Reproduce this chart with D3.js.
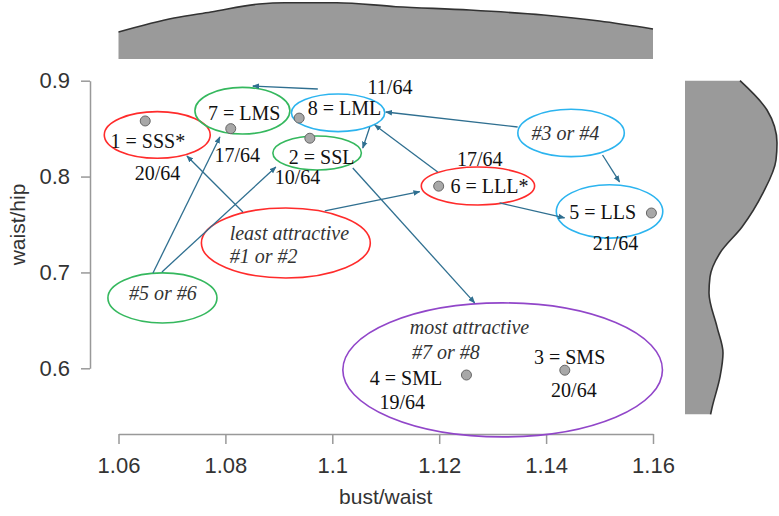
<!DOCTYPE html>
<html>
<head>
<meta charset="utf-8">
<script src="https://cdn.jsdelivr.net/npm/d3@7"></script>
<style>
  html, body { margin: 0; padding: 0; background: #fff; }
  svg { display: block; }
</style>
</head>
<body>
<svg id="chart" width="779" height="516"></svg>
<script>
// ---------------- DATA ----------------
const xTicks = [1.06, 1.08, 1.10, 1.12, 1.14, 1.16];
const xTickLabels = ["1.06", "1.08", "1.1", "1.12", "1.14", "1.16"];
const yTicks = [0.6, 0.7, 0.8, 0.9];
const yTickLabels = ["0.6", "0.7", "0.8", "0.9"];

// figures: bust/waist, waist/hip
const pointIds  = [1, 7, 8, 2, 6, 5, 4, 3];
const bustWaist = [1.065, 1.081, 1.0938, 1.0958, 1.1199, 1.1597, 1.1251, 1.1435];
const waistHip  = [0.858, 0.850, 0.861, 0.840, 0.790, 0.762, 0.593, 0.598];

// marginal density of bust/waist (arbitrary units)
const bustGrid    = [1.06, 1.0704, 1.0773, 1.0863, 1.0911, 1.1008, 1.1119, 1.1257, 1.1395, 1.15, 1.16];
const bustDensity = [6.75, 10.25, 11.75, 13.75, 14.08, 14.08, 13.08, 12.25, 11.0, 9.5, 7.5];

// marginal density of waist/hip (arbitrary units)
const hipGrid    = [0.9, 0.8694, 0.835, 0.8173, 0.7829, 0.7474, 0.7203, 0.6953, 0.6786, 0.6432, 0.616, 0.591, 0.5587, 0.552];
const hipDensity = [13.75, 20.5, 23.0, 22.75, 19.5, 14.25, 8.75, 6.25, 6.0, 8.0, 9.5, 8.75, 6.75, 6.4];

// annotation labels: text, x, y, anchor, italic
const labelText   = ["1 = SSS*", "20/64", "7 = LMS", "17/64", "8 = LML", "11/64", "2 = SSL", "10/64",
                     "17/64", "6 = LLL*", "#3 or #4", "5 = LLS", "21/64",
                     "least attractive", "#1 or #2", "#5 or #6",
                     "most attractive", "#7 or #8", "3 = SMS", "4 = SML", "19/64", "20/64"];
const labelX      = [1.0655, 1.0673, 1.0835, 1.0822, 1.1023, 1.1108, 1.0980, 1.0935,
                     1.1276, 1.1294, 1.1436, 1.1506, 1.1530,
                     1.0808, 1.0808, 1.0683,
                     1.1145, 1.1149, 1.1444, 1.1138, 1.1131, 1.1452];
const labelY      = [0.8374, 0.8041, 0.8666, 0.8225, 0.8712, 0.8934, 0.8201, 0.8000,
                     0.8180, 0.7902, 0.8452, 0.7634, 0.7308,
                     0.7412, 0.7172, 0.6786,
                     0.6432, 0.6171, 0.6119, 0.5900, 0.5650, 0.5775];
const labelAnchor = ["middle","middle","middle","middle","middle","middle","middle","middle",
                     "middle","middle","middle","middle","middle",
                     "start","start","middle",
                     "start","start","middle","middle","middle","middle"];
const labelItalic = [0,0,0,0,0,0,0,0, 0,0,1,0,0, 1,1,1, 1,1,0,0,0,0];

// ellipses (centre and radii in data units) and colour group
const ellCx    = [1.06725, 1.08318, 1.10108, 1.09716, 1.14467, 1.12725, 1.15187, 1.09131, 1.06822, 1.13187];
const ellCy    = [0.8434, 0.8687, 0.86653, 0.82461, 0.84546, 0.7902, 0.76361, 0.73076, 0.67341, 0.59833];
const ellRx    = [0.00991, 0.00888, 0.00873, 0.00828, 0.00996, 0.0106, 0.00996, 0.0158, 0.0102, 0.0299];
const ellRy    = [0.0243, 0.0243, 0.0196, 0.0177, 0.0247, 0.0198, 0.0278, 0.0365, 0.0261, 0.0699];
const ellGroup = ["red", "green", "cyan", "green", "cyan", "red", "cyan", "red", "green", "purple"];

// arrows: from (x1,y1) to (x2,y2) in data units
const arrX1 = [1.08327, 1.06645, 1.06813, 1.0986, 1.10383, 1.09729, 1.10701, 1.11972, 1.13467, 1.15056, 1.1313];
const arrY1 = [0.76309, 0.69948, 0.70052, 0.76413, 0.80897, 0.89135, 0.85172, 0.8048, 0.85172, 0.82252, 0.77247];
const arrX2 = [1.0728, 1.07897, 1.08944, 1.11636, 1.12664, 1.08514, 1.1057, 1.10794, 1.1100, 1.15374, 1.14346];
const arrY2 = [0.82148, 0.84129, 0.81001, 0.78425, 0.6682, 0.89447, 0.82982, 0.85381, 0.86736, 0.79437, 0.75683];

// ---------------- DRAW ----------------
const svg = d3.select("#chart");
const colors = { red: "#ff2b2b", green: "#35b85e", cyan: "#2cb4ef", purple: "#9146c9" };
const arrowColor = "#2f6f90";

const x = d3.scaleLinear().domain([1.06, 1.16]).range([118.5, 653]);
const y = d3.scaleLinear().domain([0.6, 0.9]).range([368.3, 80.7]);

// top marginal density
const topD = d3.scaleLinear().domain([0, 14.25]).range([59, 2]);
const topArea = d3.area().x((d, i) => x(bustGrid[i])).y0(59).y1(d => topD(d)).curve(d3.curveMonotoneX);
const topLine = d3.line().x((d, i) => x(bustGrid[i])).y(d => topD(d)).curve(d3.curveMonotoneX);
svg.append("path").attr("d", topArea(bustDensity)).attr("fill", "#9a9a9a");
svg.append("path").attr("d", topLine(bustDensity)).attr("fill", "none").attr("stroke", "#333").attr("stroke-width", 1.6);

// right marginal density
const rightD = d3.scaleLinear().domain([0, 23]).range([685, 777]);
const rArea = d3.area().y((d, i) => y(hipGrid[i])).x0(685).x1(d => rightD(d)).curve(d3.curveMonotoneY);
const rLine = d3.line().y((d, i) => y(hipGrid[i])).x(d => rightD(d)).curve(d3.curveMonotoneY);
svg.append("path").attr("d", rArea(hipDensity)).attr("fill", "#9a9a9a");
svg.append("path").attr("d", rLine(hipDensity)).attr("fill", "none").attr("stroke", "#333").attr("stroke-width", 1.6);

// axes
const xAxis = d3.axisBottom(x).tickValues(xTicks).tickFormat((d, i) => xTickLabels[i])
  .tickSizeOuter(0).tickSizeInner(10).tickPadding(13);
const gx = svg.append("g").attr("transform", "translate(0,434)").call(xAxis);
const yAxis = d3.axisLeft(y).tickValues(yTicks).tickFormat((d, i) => yTickLabels[i])
  .tickSizeOuter(0).tickSizeInner(9).tickPadding(11);
const gy = svg.append("g").attr("transform", "translate(90,0)").call(yAxis);
[gx, gy].forEach(g => {
  g.selectAll("path, line").attr("stroke", "#999").attr("stroke-width", 1.5);
  g.selectAll("text").attr("fill", "#333").style("font-family", "'Liberation Sans', Arial, sans-serif").style("font-size", "22px");
});

svg.append("text").attr("x", (x(1.06) + x(1.16)) / 2).attr("y", 504).attr("text-anchor", "middle")
  .attr("fill", "#333").style("font-family", "'Liberation Sans', Arial, sans-serif").style("font-size", "21px")
  .text("bust/waist");
svg.append("text").attr("transform", `translate(25,${(y(0.6) + y(0.9)) / 2}) rotate(-90)`).attr("text-anchor", "middle")
  .attr("fill", "#333").style("font-family", "'Liberation Sans', Arial, sans-serif").style("font-size", "21px")
  .text("waist/hip");

// arrow marker
svg.append("defs").append("marker").attr("id", "arr").attr("viewBox", "0 0 10 10")
  .attr("refX", 9).attr("refY", 5).attr("markerWidth", 7).attr("markerHeight", 7)
  .attr("markerUnits", "userSpaceOnUse").attr("orient", "auto")
  .append("path").attr("d", "M0,1 L10,5 L0,9 Z").attr("fill", arrowColor);

// ellipses
svg.append("g").selectAll("ellipse").data(ellCx).join("ellipse")
  .attr("cx", (d) => x(d)).attr("cy", (d, i) => y(ellCy[i]))
  .attr("rx", (d, i) => x(1.06 + ellRx[i]) - x(1.06))
  .attr("ry", (d, i) => y(0.6) - y(0.6 + ellRy[i]))
  .attr("fill", "none").attr("stroke", (d, i) => colors[ellGroup[i]]).attr("stroke-width", 1.6);

// arrows
svg.append("g").selectAll("line").data(arrX1).join("line")
  .attr("x1", d => x(d)).attr("y1", (d, i) => y(arrY1[i]))
  .attr("x2", (d, i) => x(arrX2[i])).attr("y2", (d, i) => y(arrY2[i]))
  .attr("stroke", arrowColor).attr("stroke-width", 1.3).attr("marker-end", "url(#arr)");

// points
svg.append("g").selectAll("circle").data(bustWaist).join("circle")
  .attr("cx", d => x(d)).attr("cy", (d, i) => y(waistHip[i])).attr("r", 5)
  .attr("fill", "#a8a8a8").attr("stroke", "#666").attr("stroke-width", 1);

// labels
svg.append("g").selectAll("text").data(labelText).join("text")
  .attr("x", (d, i) => x(labelX[i])).attr("y", (d, i) => y(labelY[i]))
  .attr("dy", "0.35em")
  .attr("text-anchor", (d, i) => labelAnchor[i])
  .style("font-family", "'Liberation Serif', 'Times New Roman', serif")
  .style("font-size", "20px")
  .style("font-style", (d, i) => labelItalic[i] ? "italic" : "normal")
  .attr("fill", (d, i) => labelItalic[i] ? "#333" : "#111")
  .text(d => d);
</script>
</body>
</html>
